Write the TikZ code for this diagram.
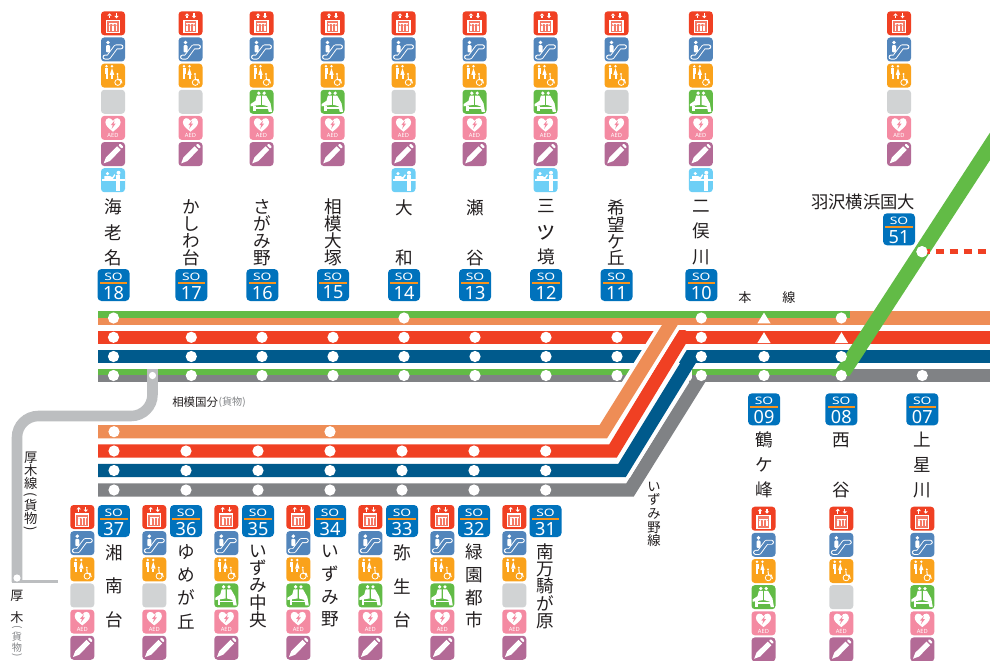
\documentclass[tikz,border=0pt]{standalone}
\usepackage{fontspec}
\newfontfamily\jp{Noto Sans CJK JP}
\newfontfamily\nf{Noto Sans}
\definecolor{lgreen}{HTML}{62BB46}
\definecolor{lorange}{HTML}{EE8D56}
\definecolor{lred}{HTML}{F04023}
\definecolor{lblue}{HTML}{005A8C}
\definecolor{lgray}{HTML}{808285}
\definecolor{lsilver}{HTML}{BCBEC0}
\definecolor{badgeb}{HTML}{0072BC}
\definecolor{stripe}{HTML}{F7941D}
\definecolor{icoesc}{HTML}{5285BB}
\definecolor{icotoi}{HTML}{FAA21B}
\definecolor{icoemp}{HTML}{D1D3D4}
\definecolor{icoaed}{HTML}{F48AA2}
\definecolor{icopen}{HTML}{B36A96}
\definecolor{icoinf}{HTML}{6DCFF6}
\definecolor{txt}{HTML}{231F20}
\newcommand\tightlines{\lineskiplimit -100pt\relax}
\tikzset{
  wide/.style={line width=10pt},
  thin strip/.style={line width=5pt},
  stn/.style={circle,fill=white,inner sep=0pt,minimum size=8.4pt},
  stnsmall/.style={circle,fill=white,inner sep=0pt,minimum size=5.4pt},
  tri/.style={fill=white},
  badgebox/.style={fill=badgeb,rounded corners=3pt,minimum size=24pt,inner sep=0pt},
  sotxt/.style={text=white,inner sep=0pt,font=\nf\fontsize{7.7}{8}\selectfont,xscale=1.35},
  numtxt/.style={text=white,inner sep=0pt,font=\nf\fontsize{13.6}{14}\selectfont},
  vname/.style={text=txt,inner sep=0pt,align=center},
  smalllabel/.style={text=txt,inner sep=0pt,font=\jp\fontsize{9.8}{10}\selectfont},
  graylabel/.style={text=lgray,inner sep=0pt,font=\jp\fontsize{7.6}{8}\selectfont},
}
\newcounter{aedc}
\newcommand\tile[1]{\fill[#1,rounded corners=2.5pt] (-12,-12) rectangle (12,12);}
\newcommand\icoE{\tile{lred}
  \fill[white] (-5.7,-7.6)--(-3.5,-10)--(-1.3,-7.6)--cycle;
  \fill[white] (-4.1,-7.8) rectangle (-2.9,-5);
  \fill[white] (1.3,-7.4)--(3.5,-5)--(5.7,-7.4)--cycle;
  \fill[white] (2.9,-10) rectangle (4.1,-7.2);
  \fill[white,opacity=.3] (-6.5,-3) rectangle (6.5,9.5);
  \draw[white,line width=.9pt] (-6.5,-3) rectangle (6.5,9.5);
  \fill[white] (-4.2,-.2) rectangle (4.2,.4);
  \foreach \q in {-3.3,0,3.3}{\fill[white] (\q,1.5) circle (.85); \fill[white] (\q-.75,2.2) rectangle (\q+.75,7.6);}
}
\newcommand\icoS{\tile{icoesc}
  \draw[white,line width=3.7pt,line cap=round,line join=round] (-8,7.6)--(-4.5,7.6)--(3,-2.6)--(8,-2.6);
  \draw[icoesc,line width=2.3pt,line cap=round,line join=round] (-8,7.6)--(-4.5,7.6)--(3,-2.6)--(8,-2.6);
  \fill[white] (-5,-7) circle (1.9);
  \fill[white,rounded corners=.8pt] (-7,-4.4) rectangle (-3,3);
}
\newcommand\icoT{\tile{icotoi}
  \fill[white] (-6.5,-9.3) circle (1.35);
  \fill[white] (-8,-7.5) rectangle (-5,-2);
  \fill[white] (-7.5,-2) rectangle (-5.5,3);
  \fill[white] (-1,-9.3) circle (1.35);
  \fill[white] (-1,-7.6)--(-3.2,-.8)--(1.2,-.8)--cycle;
  \fill[white] (-2,-.8) rectangle (0,3);
  \fill[white] (4.5,-1.6) circle (1.05);
  \draw[white,line width=.75pt] (4.5,-.3)--(5,4)--(7.8,4)--(9,7.8);
  \draw[white,line width=.6pt] (4.8,6.8) circle (3);
}
\newcommand\icoG{\tile{icoemp}}
\newcommand\icoW{\tile{lgreen}
  \fill[white] (-2.7,-8.6) circle (1.8);
  \fill[white] (2.7,-8.6) circle (1.8);
  \fill[white] (-.7,-6.2)--(-4.6,-6.2)--(-6,-1)--(-11,2.4)--(-11,4.6)--(-.7,3)--cycle;
  \fill[white] (.7,-6.2)--(4.6,-6.2)--(9,1.5)--(10.5,10)--(7.2,10)--(6,4.4)--(.7,3)--cycle;
  \fill[white] (-8.6,4) rectangle (-6,9.5);
  \fill[white] (-8,5.2) rectangle (7,7);
}
\newcommand\icoA{\tile{icoaed}
  \fill[white] (0,3.8) .. controls (-4,.6) and (-7.6,-2) .. (-7.6,-5.6) .. controls (-7.6,-10.8) and (-1.8,-10.8) .. (0,-7) .. controls (1.8,-10.8) and (7.6,-10.8) .. (7.6,-5.6) .. controls (7.6,-2) and (4,.6) .. (0,3.8) -- cycle;
  \fill[icoaed] (1.6,-7.4)--(-2.2,-2.8)--(-.2,-2.8)--(-1.4,1)--(2.6,-4.2)--(.5,-4.2)--cycle;
  \stepcounter{aedc}
  \node[text=white,inner sep=0pt,font=\nf\bfseries\fontsize{4.3}{5}\selectfont] (aed\theaedc) at (0,7.9) {AED};
}
\newcommand\icoP{\tile{icopen}
  \fill[white] (-9.3,9.3)--(-7,3.2)--(4.2,-7.8)--(7.8,-4.2)--(-3.2,7)--cycle;
  \fill[white,rounded corners=.6pt] (5.4,-8.9)--(7.2,-10.4)--(10.4,-7.2)--(8.9,-5.4)--cycle;
}
\newcommand\icoK{\tile{icoinf}
  \fill[white] (5.5,-7.4) circle (2);
  \fill[white] (3.2,-5) rectangle (7.4,10.5);
  \fill[white] (-11,-.8) rectangle (12,.6);
  \fill[white] (-5.5,-6.6) circle (1.7);
  \fill[white] (-8.6,-4.2)--(-3,-4.2)--(-.6,-3)--(1.5,-6)--(2.4,-5)--(-.4,-.8)--(-8.6,-.8)--cycle;
}
\newcommand\iconcol[3]{\foreach \k [count=\n from 0] in {#3}{\pgfmathsetmacro\cy{#2+12+26.15*\n}\begin{scope}[shift={(#1,\cy)}]\csname ico\k\endcsname\end{scope}}}
% badge: x, y, number
\newcommand\badge[3]{%
  \node[badgebox] (bd#3) at (#1,#2) {};
  \node[sotxt] (so#3) at (#1,#2-8.4) {SO};
  \fill[stripe] (#1-13.8,#2-3) rectangle (#1+13.8,#2-1.2);
  \node[numtxt] (no#3) at (#1,#2+7.6) {#3};
}
% vertical name: node name, x, centre y, pitch (pt), lines
\newcommand\vn[5]{\node[vname,font={\jp\fontsize{13.2}{#4}\selectfont\tightlines}] (#1) at (#2,#3) {#5};}
\begin{document}
\begin{tikzpicture}[x=.75pt,y=-.75pt]
\useasboundingbox (0,0) rectangle (990,661);
\fill[white] (0,0) rectangle (990,661);
% ---- left horizontals
\draw[lgreen,thin strip] (98,314.65)--(855,314.65);
\draw[lorange,thin strip] (98,321.4)--(855,321.4);
\draw[lorange,wide] (850,318)--(990,318);
\draw[lred,wide] (98,337.3)--(660,337.3);
\draw[lblue,wide] (98,356.7)--(692,356.7);
\draw[lgreen,thin strip] (98,372.2)--(690,372.2);
\draw[lgray,thin strip] (98,378.8)--(690,378.8);
% ---- Izumino line, bottom to top
\begin{scope}
 \clip (0,375.5) rectangle (990,661);
 \draw[lgray,wide,miter limit=10] (98,490)--(630,490)--(708,365);
\end{scope}
\begin{scope}
 \clip (0,363.3) rectangle (990,477);
 \draw[white,line width=15.75pt] (614,483.5)--(696,350);
\end{scope}
\begin{scope}
 \clip (0,350) rectangle (990,661);
 \draw[lblue,wide,miter limit=10] (98,470.5)--(622,470.5)--(696,350);
\end{scope}
\begin{scope}
 \clip (0,344) rectangle (990,458);
 \draw[white,line width=15.75pt] (605,464)--(686,330.7);
\end{scope}
\begin{scope}
 \clip (0,330.7) rectangle (990,661);
 \draw[lred,wide,miter limit=10] (98,451)--(613,451)--(686,330.7);
\end{scope}
\begin{scope}
 \clip (0,325) rectangle (990,438.4);
 \draw[white,line width=15.75pt] (595,445)--(674.2,318);
\end{scope}
\begin{scope}
 \clip (0,318) rectangle (990,661);
 \draw[lorange,wide,miter limit=10] (98,431.7)--(603.3,431.7)--(674.2,318);
\end{scope}
% ---- right horizontals
\draw[lred,wide] (682,337.3)--(990,337.3);
\draw[lblue,wide] (692,356.7)--(990,356.7);
\draw[lgreen,thin strip] (692,372.2)--(841,372.2);
\draw[lgray,thin strip] (692,378.8)--(841,378.8);
\draw[lgray,wide] (841,375.5)--(990,375.5);
% ---- Sotetsu-Shin-Yokohama line
\begin{scope}
 \clip (0,0) rectangle (990,375.5);
 \draw[lgreen,line width=11.25pt] (834.7,385)--(1000,131);
\end{scope}
% ---- Atsugi line
\coordinate (atsTop) at (152.5,369);
\coordinate (atsEnd) at (17,582);
\draw[lsilver,line width=7.9pt,rounded corners=16pt] (atsTop)--(152.5,416)--(17,416)--(atsEnd);
\draw[lsilver,line width=2.4pt] (12,581.5)--(58,581.5);
% ---- stations upper
\foreach \sx/\sn in {113.5/a,191.3/b,262/c,333/d,404/e,475/f,546/g,617/h,701.3/i}{
  \node[stn] (r\sn) at (\sx,337.3) {};
  \node[stn] (u\sn) at (\sx,356.5) {};
  \node[stn] (v\sn) at (\sx,375.5) {};
}
\foreach \sx/\sn in {113.5/a,404/e,701.3/i,841.3/k}{\node[stn] (t\sn) at (\sx,318) {};}
\node[stn] (uj) at (764,356.5) {};
\node[stn] (vj) at (764,375.5) {};
\node[stn] (uk) at (841.3,356.5) {};
\node[stn] (vk) at (841.3,375.5) {};
\node[stn] (vl) at (922.3,375.5) {};
\fill[tri] (757.4,323.4)--(764,312.6)--(770.6,323.4)--cycle;
\fill[tri] (757.4,343)--(764,332.2)--(770.6,343)--cycle;
\fill[tri] (834.9,343)--(841.5,332.2)--(848.1,343)--cycle;
\node[stnsmall] (sagami) at (152.5,375.5) {};
\node[stnsmall] (atsugi) at (17,578) {};
% ---- stations lower
\node[stn] (qa) at (114,431.7) {};
\node[stn] (qd) at (330,431.7) {};
\foreach \sx/\sn in {114/a,186/b,258/c,330/d,402/e,474/f,545.7/g}{
  \node[stn] (w\sn) at (\sx,451) {};
  \node[stn] (m\sn) at (\sx,470.5) {};
  \node[stn] (n\sn) at (\sx,490) {};
}
% ---- Hazawa
\coordinate (hzEnd) at (986,251.7);
\node[stn] (hz) at (922,251.7) {};
\draw[lred,line width=4pt,dash pattern=on 6.22pt off 4.28pt] (921.7,251.7)--(hzEnd);
\node[stn] (hz2) at (hz) {};
% ---- icons
\iconcol{113}{11.3}{E,S,T,G,A,P,K}
\iconcol{190.5}{11.3}{E,S,T,G,A,P}
\iconcol{261.5}{11.3}{E,S,T,W,A,P}
\iconcol{332.5}{11.3}{E,S,T,W,A,P}
\iconcol{403.5}{11.3}{E,S,T,G,A,P,K}
\iconcol{474.5}{11.3}{E,S,T,W,A,P}
\iconcol{545.5}{11.3}{E,S,T,W,A,P,K}
\iconcol{616.5}{11.3}{E,S,T,G,A,P}
\iconcol{700.8}{11.3}{E,S,T,W,A,P,K}
\iconcol{899}{11.3}{E,S,T,G,A,P}
\iconcol{82.3}{505}{E,S,T,G,A,P}
\iconcol{154.3}{505}{E,S,T,G,A,P}
\iconcol{226.3}{505}{E,S,T,W,A,P}
\iconcol{298.3}{505}{E,S,T,W,A,P}
\iconcol{370.3}{505}{E,S,T,W,A,P}
\iconcol{442.3}{505}{E,S,T,W,A,P}
\iconcol{514.3}{505}{E,S,T,G,A,P}
\iconcol{763.5}{506.7}{E,S,T,W,A,P}
\iconcol{841.3}{506.7}{E,S,T,G,A,P}
\iconcol{922.3}{506.7}{E,S,T,W,A,P}
% ---- badges
\badge{113.5}{285}{18}
\badge{191.3}{285}{17}
\badge{262.3}{285}{16}
\badge{333}{285}{15}
\badge{404}{285}{14}
\badge{475}{285}{13}
\badge{546}{285}{12}
\badge{616.5}{285}{11}
\badge{701.3}{285}{10}
\badge{764}{409.3}{09}
\badge{841.3}{409.3}{08}
\badge{922.3}{409.3}{07}
\badge{899}{229.3}{51}
\badge{113.8}{521}{37}
\badge{186}{521}{36}
\badge{258}{521}{35}
\badge{330}{521}{34}
\badge{402}{521}{33}
\badge{474}{521}{32}
\badge{545.5}{521}{31}
% ---- names
\vn{n18}{113.5}{232.5}{19.1}{海\\老\\名}
\vn{n17}{191.3}{232.5}{12.7}{か\\し\\わ\\台}
\vn{n16}{262.3}{232.5}{12.7}{さ\\が\\み\\野}
\vn{n15}{333}{232.5}{12.7}{相\\模\\大\\塚}
\vn{n14}{404}{232.5}{37.5}{大\\和}
\vn{n13}{475}{232.5}{37.5}{瀬\\谷}
\vn{n12}{546}{232.5}{19.1}{三\\\scalebox{1.3}{ッ}\\境}
\vn{n11}{616.5}{232.5}{12.7}{希\\望\\ケ\\丘}
\vn{n10}{701.3}{232.5}{19.1}{二\\俣\\川}
\node[text=txt,inner sep=0pt,font=\jp\fontsize{13}{14}\selectfont] (n51) at (863,201.7) {羽沢横浜国大};
\vn{n09}{764}{465}{18.75}{鶴\\ケ\\峰}
\vn{n08}{841.3}{465}{37.5}{西\\谷}
\vn{n07}{922.3}{465}{18.75}{上\\星\\川}
\vn{n37}{114}{586.3}{25.3}{湘\\南\\台}
\vn{n36}{186}{586.5}{17.5}{ゆ\\め\\が\\丘}
\vn{n35}{258}{586.5}{13.1}{い\\ず\\み\\中\\央}
\vn{n34}{330}{586.3}{17}{い\\ず\\み\\野}
\vn{n33}{402}{586.3}{25.3}{弥\\生\\台}
\vn{n32}{474}{586.3}{17}{緑\\園\\都\\市}
\vn{n31}{545.5}{586.3}{12.8}{南\\万\\騎\\が\\原}
% ---- small labels
\node[smalllabel] (hon) at (745,298) {本};
\node[smalllabel] (sen) at (789,298) {線};
\node[smalllabel,anchor=west,font=\jp\fontsize{8.6}{9}\selectfont] (sgk) at (172,402) {相模国分};
\node[graylabel,anchor=west] (sgk2) at (sgk.east) {(貨物)};
\node[smalllabel,align=center,font={\jp\fontsize{10}{9.8}\selectfont\tightlines}] (atl1) at (30.7,470.7) {厚\\木\\線};
\node[smalllabel,rotate=-90] (atl2) at (30.7,495) {(};
\node[smalllabel,align=center,font={\jp\fontsize{10}{9.8}\selectfont\tightlines}] (atl3) at (30.7,511.7) {貨\\物};
\node[smalllabel,rotate=-90] (atl4) at (30.7,529) {)};
\node[smalllabel,align=center,font={\jp\fontsize{10}{10.2}\selectfont\tightlines}] (izl) at (654,514.3) {い\\ず\\み\\野\\線};
\node[smalllabel] (at1) at (17,596) {厚};
\node[smalllabel] (at2) at (17,618) {木};
\node[graylabel,rotate=-90] (at3) at (17,627.5) {(};
\node[graylabel,align=center,font={\jp\fontsize{7.6}{7.8}\selectfont\tightlines}] (at4) at (17,642) {貨\\物};
\node[graylabel,rotate=-90] (at5) at (17,655) {)};
\end{tikzpicture}
\end{document}
